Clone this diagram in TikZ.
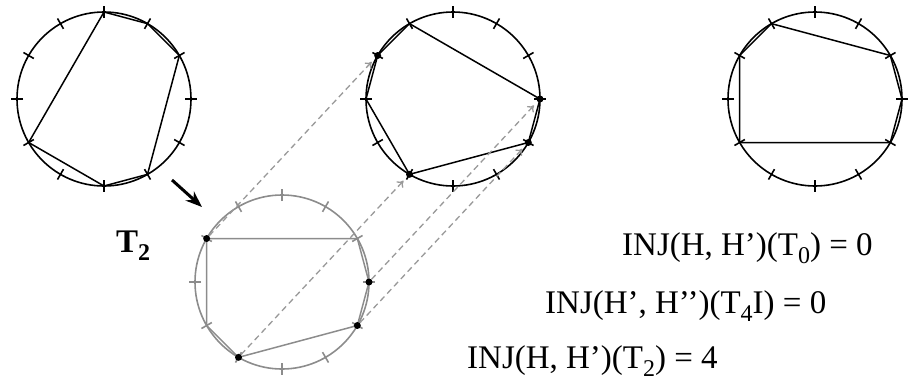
\documentclass[tikz,border=0pt]{standalone}
\usepackage{fontspec}
\setmainfont{Liberation Serif}
\usetikzlibrary{calc,arrows.meta}
\newcommand{\lowidx}[1]{\raisebox{-0.25em}{\fontsize{24}{26}\selectfont #1}}

\begin{document}
\begin{tikzpicture}[x=1pt,y=1pt,>=Stealth,
  rim/.style={line width=1.6pt},
  chord/.style={line width=1.5pt,line join=round},
  vdot/.style={circle,fill=black,inner sep=0pt,minimum size=7pt},
  match/.style={draw=black!40,dash pattern=on 6pt off 4pt,line width=1.3pt,-{To[length=6pt,width=9pt]},shorten >=5pt},
  lbl/.style={font=\fontsize{33}{38}\selectfont,inner sep=0pt,anchor=base west}]
\useasboundingbox (0,0) rectangle (908,-381);
% four dials, ticks every 30 degrees
\foreach \n/\x/\y/\c in {A/104/-99/black,B/453/-99/black,C/815/-99/black,D/282/-282/black!45}{
  \draw[rim,color=\c] (\x,\y) circle (87);
  \foreach \a in {0,30,...,330}{
    \coordinate (\n\a) at ($(\x,\y)+(\a:87)$);
    \draw[rim,color=\c] ($(\x,\y)+(\a:81)$) -- ($(\x,\y)+(\a:93)$);
  }
}
% polygons
\draw[chord] (A90) -- (A60) -- (A30) -- (A300) -- (A270) -- (A210) -- cycle;
\draw[chord] (B120) -- (B0) -- (B330) -- (B240) -- (B180) -- (B150) -- cycle;
\draw[chord] (C120) -- (C30) -- (C0) -- (C330) -- (C210) -- (C150) -- cycle;
\draw[chord,black!45] (D150) -- (D30) -- (D0) -- (D330) -- (D240) -- (D210) -- cycle;
% matched vertices
\foreach \a in {150,0,330,240}{
  \node[vdot] (b\a) at (B\a) {};
  \node[vdot] (d\a) at (D\a) {};
  \draw[match] (d\a) -- (b\a);
}
\coordinate (from) at (172,-180);
\coordinate (to) at (202,-207);
\draw[->,line width=3pt] (from) -- (to);
% labels
\node[lbl] (t2) at (116,-252) {\textbf{T\lowidx{2}}};
\node[lbl] (inj0) at (622,-255) {INJ(H, H’)(T\lowidx{0}) = 0};
\node[lbl] (inj4) at (545,-313) {INJ(H’, H’’)(T\lowidx{4}I) = 0};
\node[lbl] (inj2) at (467,-368) {INJ(H, H’)(T\lowidx{2}) = 4};
\end{tikzpicture}
\end{document}
